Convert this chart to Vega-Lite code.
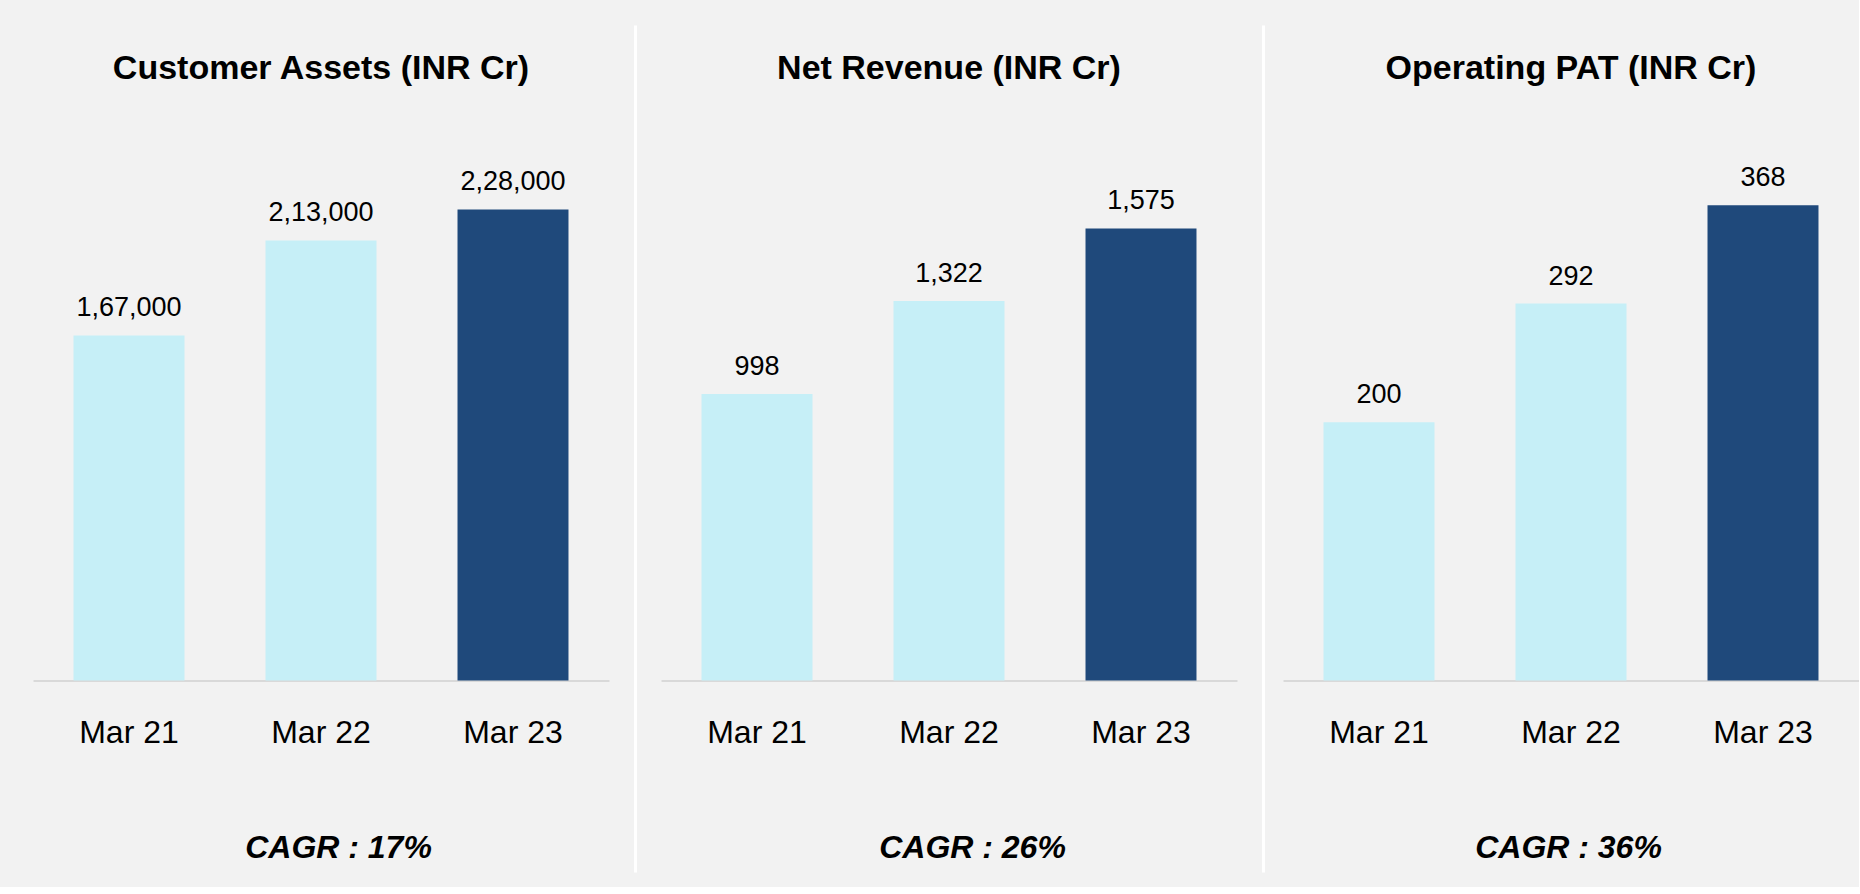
{
  "$schema": "https://vega.github.io/schema/vega-lite/v6.json",
  "background": "#f2f2f2",
  "padding": {"left": 33, "top": 25, "right": 0, "bottom": 15},
  "autosize": {"type": "pad"},
  "spacing": 26,
  "datasets": {
    "assets": [
      {"period": "Mar 21", "value": 167000},
      {"period": "Mar 22", "value": 213000},
      {"period": "Mar 23", "value": 228000}
    ],
    "revenue": [
      {"period": "Mar 21", "value": 998},
      {"period": "Mar 22", "value": 1322},
      {"period": "Mar 23", "value": 1575}
    ],
    "pat": [
      {"period": "Mar 21", "value": 200},
      {"period": "Mar 22", "value": 292},
      {"period": "Mar 23", "value": 368}
    ]
  },
  "hconcat": [
    {
      "width": 576,
      "height": 847,
      "title": {"text": "Customer Assets (INR Cr)"},
      "data": {"name": "assets"},
      "encoding": {
        "x": {"field": "period", "type": "nominal", "sort": null, "scale": {"paddingInner": 0, "paddingOuter": 0}, "axis": {"title": "CAGR : 17%", "titleX": 305}},
        "y": {"field": "value", "type": "quantitative", "scale": {"domain": [-92700, 317300], "nice": false, "zero": false}, "axis": {"orient": "right", "offset": 26, "title": null}}
      },
      "layer": [
        {"mark": {"type": "bar", "width": {"band": 0.578}}, "encoding": {"color": {"field": "period", "type": "nominal", "scale": {"domain": ["Mar 21", "Mar 22", "Mar 23"], "range": ["#c6eff7", "#c6eff7", "#1f497b"]}, "legend": null}}},
        {"mark": {"type": "text", "dy": -19, "baseline": "alphabetic", "align": "center", "fontSize": 27, "color": "#000000", "font": "Liberation Sans"}, "encoding": {"text": {"field": "value", "type": "quantitative", "format": ","}}}
      ]
    },
    {
      "width": 576,
      "height": 847,
      "title": {"text": "Net Revenue (INR Cr)"},
      "data": {"name": "revenue"},
      "encoding": {
        "x": {"field": "period", "type": "nominal", "sort": null, "scale": {"paddingInner": 0, "paddingOuter": 0}, "axis": {"title": "CAGR : 26%", "titleX": 311}},
        "y": {"field": "value", "type": "quantitative", "scale": {"domain": [-667, 2284], "nice": false, "zero": false}, "axis": null}
      },
      "layer": [
        {"mark": {"type": "bar", "width": {"band": 0.578}}, "encoding": {"color": {"field": "period", "type": "nominal", "scale": {"domain": ["Mar 21", "Mar 22", "Mar 23"], "range": ["#c6eff7", "#c6eff7", "#1f497b"]}, "legend": null}}},
        {"mark": {"type": "text", "dy": -19, "baseline": "alphabetic", "align": "center", "fontSize": 27, "color": "#000000", "font": "Liberation Sans"}, "encoding": {"text": {"field": "value", "type": "quantitative", "format": ","}}}
      ]
    },
    {
      "width": 576,
      "height": 847,
      "title": {"text": "Operating PAT (INR Cr)"},
      "data": {"name": "pat"},
      "encoding": {
        "x": {"field": "period", "type": "nominal", "sort": null, "scale": {"paddingInner": 0, "paddingOuter": 0}, "axis": {"title": "CAGR : 36%", "titleX": 285}},
        "y": {"field": "value", "type": "quantitative", "scale": {"domain": [-148.3, 507.7], "nice": false, "zero": false}, "axis": {"orient": "left", "offset": 20, "title": null}}
      },
      "layer": [
        {"mark": {"type": "bar", "width": {"band": 0.578}}, "encoding": {"color": {"field": "period", "type": "nominal", "scale": {"domain": ["Mar 21", "Mar 22", "Mar 23"], "range": ["#c6eff7", "#c6eff7", "#1f497b"]}, "legend": null}}},
        {"mark": {"type": "text", "dy": -19, "baseline": "alphabetic", "align": "center", "fontSize": 27, "color": "#000000", "font": "Liberation Sans"}, "encoding": {"text": {"field": "value", "type": "quantitative", "format": ","}}}
      ]
    }
  ],
  "resolve": {"scale": {"color": "independent"}},
  "config": {
    "locale": {"number": {"decimal": ".", "thousands": ",", "grouping": [3, 2], "currency": ["₹", ""]}},
    "view": {"stroke": null},
    "font": "Liberation Sans",
    "title": {"fontSize": 34, "fontWeight": "bold", "color": "#000000", "font": "Liberation Sans", "anchor": "middle", "offset": -61, "baseline": "alphabetic"},
    "axisX": {
      "offset": -191.5,
      "domainColor": "#d9d9d9",
      "domainWidth": 2,
      "ticks": false,
      "tickSize": 0,
      "grid": false,
      "labelAngle": 0,
      "labelFont": "Liberation Sans",
      "labelFontSize": 32,
      "labelColor": "#000000",
      "labelBaseline": "alphabetic",
      "labelPadding": 61.5,
      "titleFont": "Liberation Sans",
      "titleFontSize": 32,
      "titleFontWeight": "bold",
      "titleFontStyle": "italic",
      "titleColor": "#000000",
      "titleBaseline": "alphabetic",
      "titleAlign": "center",
      "titleY": 176.5
    },
    "axisY": {
      "domainColor": "#ffffff",
      "domainWidth": 3,
      "ticks": false,
      "labels": false,
      "grid": false
    }
  }
}
